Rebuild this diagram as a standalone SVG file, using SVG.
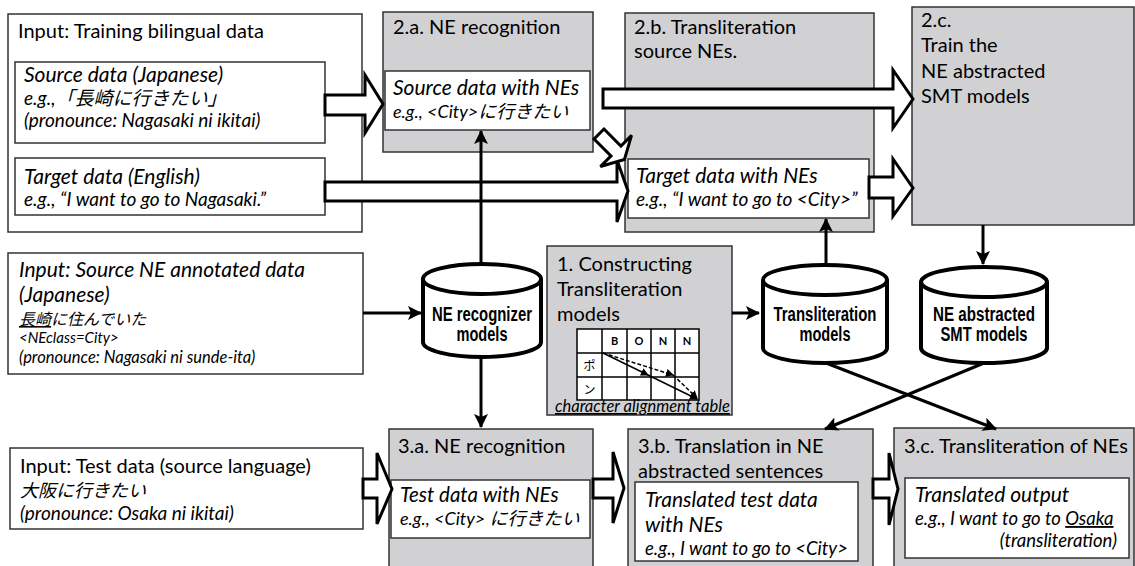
<svg xmlns="http://www.w3.org/2000/svg" width="1135" height="566" viewBox="0 0 1135 566">
<style>
.box{fill:#fff;stroke:#333;stroke-width:1.5}
.gbox{fill:#d1d1d4;stroke:#333;stroke-width:1.5}
.t{font-family:Lato,"Noto Sans CJK JP",sans-serif;fill:#000}
.n{font-size:20px}
.h{font-size:21px;font-style:italic}
.i{font-style:italic}
.s19{font-size:19px}
.s18{font-size:18px}
.s16{font-size:16px}
.s15{font-size:15px}
.blk{fill:#fff;stroke:#000;stroke-width:3;stroke-linejoin:miter}
.ln{fill:none;stroke:#000;stroke-width:3}
.cyl{fill:#fff;stroke:#000;stroke-width:4}
.ct{font-family:"Liberation Sans",Arial,sans-serif;font-weight:bold;font-size:20px;text-anchor:middle;fill:#000}
.tb{fill:#fff;stroke:#000;stroke-width:1.5}
</style>
<defs>
<marker id="ah" markerUnits="userSpaceOnUse" markerWidth="16" markerHeight="16" refX="13" refY="7" orient="auto">
<path d="M0,0 L14,7 L0,14 L3,7 Z" fill="#000"/>
</marker>
<marker id="sh" markerUnits="userSpaceOnUse" markerWidth="10" markerHeight="10" refX="7" refY="4" orient="auto">
<path d="M0,0 L8,4 L0,8 Z" fill="#000"/>
</marker>
</defs>

<g id="input-training">
<rect class="box" x="8" y="14" width="354" height="218"/>
<text class="t n" x="18" y="38">Input: Training bilingual data</text>
<rect class="box" x="15" y="62" width="310" height="81"/>
<text class="t h" x="24" y="82">Source data (Japanese)</text>
<text class="t s19 i" x="24" y="105">e.g.,「長崎に行きたい」</text>
<text class="t s19 i" x="24" y="127">(pronounce: Nagasaki ni ikitai)</text>
<rect class="box" x="15" y="158" width="310" height="57"/>
<text class="t h" x="24" y="184">Target data (English)</text>
<text class="t s19 i" x="24" y="206">e.g., “I want to go to Nagasaki.”</text>
</g>

<g id="ne-recognition-2a">
<rect class="gbox" x="383" y="12" width="210" height="140"/>
<text class="t n" x="393" y="34">2.a. NE recognition</text>
<rect class="box" x="385" y="71" width="205" height="59"/>
<text class="t h" x="393" y="95">Source data with NEs</text>
<text class="t s18 i" x="393" y="118">e.g., &lt;City&gt;に行きたい</text>
</g>

<g id="transliteration-2b">
<rect class="gbox" x="625" y="13" width="249" height="219"/>
<text class="t n" x="634" y="34">2.b. Transliteration</text>
<text class="t n" x="634" y="58">source NEs.</text>
<rect class="box" x="628" y="159" width="241" height="59"/>
<text class="t h" x="636" y="183">Target data with NEs</text>
<text class="t s19 i" x="636" y="206">e.g., “I want to go to &lt;City&gt;”</text>
</g>

<g id="train-2c">
<rect class="gbox" x="912" y="7" width="222" height="218"/>
<text class="t n" x="921" y="27">2.c.</text>
<text class="t n" x="921" y="52">Train the</text>
<text class="t n" x="921" y="78">NE abstracted</text>
<text class="t n" x="921" y="103">SMT models</text>
</g>

<g id="input-ne-annotated">
<rect class="box" x="8" y="253" width="355" height="121"/>
<text class="t h" x="19" y="277">Input: Source NE annotated data</text>
<text class="t h" x="19" y="302">(Japanese)</text>
<text class="t s16 i" x="19" y="325"><tspan text-decoration="underline">長崎</tspan>に住んでいた</text>
<text class="t s15 i" x="19" y="343">&lt;NEclass=City&gt;</text>
<text class="t i" font-size="16.5" x="19" y="363">(pronounce: Nagasaki ni sunde-ita)</text>
</g>

<g id="ne-recognizer-models">
<path class="cyl" d="M423,279 A59,15 0 0 1 541,279 L541,342 A59,15 0 0 1 423,342 Z"/>
<path class="cyl" d="M423,279 A59,15 0 0 0 541,279"/>
<text class="ct" x="482" y="321" textLength="100" lengthAdjust="spacingAndGlyphs">NE recognizer</text>
<text class="ct" x="482" y="341" textLength="51" lengthAdjust="spacingAndGlyphs">models</text>
</g>

<g id="constructing-1">
<rect class="gbox" x="547" y="246" width="185" height="169"/>
<text class="t n" x="557" y="271">1. Constructing</text>
<text class="t n" x="557" y="296">Transliteration</text>
<text class="t n" x="557" y="321">models</text>
<rect class="tb" x="577" y="329" width="122" height="71"/>
<path class="tb" d="M602,329 V400 M627,329 V400 M651,329 V400 M675,329 V400 M577,353 H699 M577,377 H699"/>
<g class="t" font-size="11" font-weight="bold" text-anchor="middle">
<text x="614.5" y="345">B</text>
<text x="639" y="345">O</text>
<text x="663" y="345">N</text>
<text x="687" y="345">N</text>
</g>
<text class="t" font-size="12" text-anchor="middle" x="589.5" y="370">ポ</text>
<text class="t" font-size="12" text-anchor="middle" x="589.5" y="394">ン</text>
<path d="M603,353 L648,375" stroke="#000" stroke-width="1.5" fill="none" marker-end="url(#sh)"/>
<path d="M648,375 L697,399" stroke="#000" stroke-width="1.5" fill="none" marker-end="url(#sh)"/>
<path d="M603,353 L673,375" stroke="#000" stroke-width="1.5" stroke-dasharray="4,2" fill="none" marker-end="url(#sh)"/>
<path d="M673,375 L697,398" stroke="#000" stroke-width="1.5" stroke-dasharray="4,2" fill="none" marker-end="url(#sh)"/>
<text class="t i" font-size="16.5" x="555" y="412" text-decoration="underline">character alignment table</text>
</g>

<g id="transliteration-models">
<path class="cyl" d="M763,280 A62,15 0 0 1 887,280 L887,348 A62,15 0 0 1 763,348 Z"/>
<path class="cyl" d="M763,280 A62,15 0 0 0 887,280"/>
<text class="ct" x="825" y="321" textLength="103" lengthAdjust="spacingAndGlyphs">Transliteration</text>
<text class="ct" x="825" y="341" textLength="51" lengthAdjust="spacingAndGlyphs">models</text>
</g>

<g id="ne-abstracted-smt-models">
<path class="cyl" d="M921,282 A63,15 0 0 1 1047,282 L1047,348 A63,15 0 0 1 921,348 Z"/>
<path class="cyl" d="M921,282 A63,15 0 0 0 1047,282"/>
<text class="ct" x="984" y="321" textLength="102" lengthAdjust="spacingAndGlyphs">NE abstracted</text>
<text class="ct" x="984" y="341" textLength="87" lengthAdjust="spacingAndGlyphs">SMT models</text>
</g>

<g id="input-test">
<rect class="box" x="10" y="448" width="353" height="81"/>
<text class="t n" x="20" y="473">Input: Test data (source language)</text>
<text class="t s18 i" x="20" y="497">大阪に行きたい</text>
<text class="t s19 i" x="20" y="520">(pronounce: Osaka ni ikitai)</text>
</g>

<g id="ne-recognition-3a">
<rect class="gbox" x="389" y="429" width="204" height="140"/>
<text class="t n" x="398" y="453">3.a. NE recognition</text>
<rect class="box" x="391" y="480" width="199" height="58"/>
<text class="t i" font-size="20.5" x="400" y="502">Test data with NEs</text>
<text class="t s18 i" x="400" y="525">e.g., &lt;City&gt; に行きたい</text>
</g>

<g id="translation-3b">
<rect class="gbox" x="628" y="429" width="245" height="140"/>
<text class="t n" x="638" y="453">3.b. Translation in NE</text>
<text class="t n" x="638" y="478">abstracted sentences</text>
<rect class="box" x="635" y="482" width="223" height="79"/>
<text class="t h" x="645" y="507">Translated test data</text>
<text class="t h" x="645" y="532">with NEs</text>
<text class="t i" font-size="18.5" x="645" y="555">e.g., I want to go to &lt;City&gt;</text>
</g>

<g id="transliteration-3c">
<rect class="gbox" x="894" y="428" width="240" height="141"/>
<text class="t n" x="904" y="453">3.c. Transliteration of NEs</text>
<rect class="box" x="905" y="478" width="224" height="80"/>
<text class="t h" x="915" y="502">Translated output</text>
<text class="t i" font-size="18.5" x="915" y="525">e.g., I want to go to <tspan text-decoration="underline">Osaka</tspan></text>
<text class="t i" font-size="18.5" x="1117" y="547" text-anchor="end">(transliteration)</text>
</g>

<g id="connectors">
<polygon class="blk" points="325,95 365,95 365,75 383,104 365,133 365,115 325,115"/>
<polygon class="blk" points="603,89 893,89 893,70 913,99 893,128 893,108 603,108"/>
<polygon class="blk" points="325,182 617,182 617,160 628,191 617,222 617,201 325,201"/>
<polygon class="blk" points="869,177 893,177 893,159 913,188 893,216 893,198 869,198"/>
<polygon class="blk" transform="translate(599,134) rotate(45)" points="0,-7 24,-7 24,-22 36,0 24,22 24,7 0,7"/>
<polygon class="blk" points="363,479 377,479 377,453 392,489 377,524 377,498 363,498"/>
<polygon class="blk" points="593,479 613,479 613,452 624,488 613,523 613,498 593,498"/>
<polygon class="blk" points="873,479 889,479 889,453 898,489 889,525 889,498 873,498"/>
<path class="ln" d="M481,265 L481,131" marker-end="url(#ah)"/>
<path class="ln" d="M481,358 L481,427" marker-end="url(#ah)"/>
<path class="ln" d="M363,313 L421,313" marker-end="url(#ah)"/>
<path class="ln" d="M732,313 L759,313" marker-end="url(#ah)"/>
<path class="ln" d="M826,265 L826,219" marker-end="url(#ah)"/>
<path class="ln" d="M983,225 L983,264" marker-end="url(#ah)"/>
<path class="ln" d="M826,363 L996,429" marker-end="url(#ah)"/>
<path class="ln" d="M984,363 L825,429" marker-end="url(#ah)"/>
</g>
</svg>
